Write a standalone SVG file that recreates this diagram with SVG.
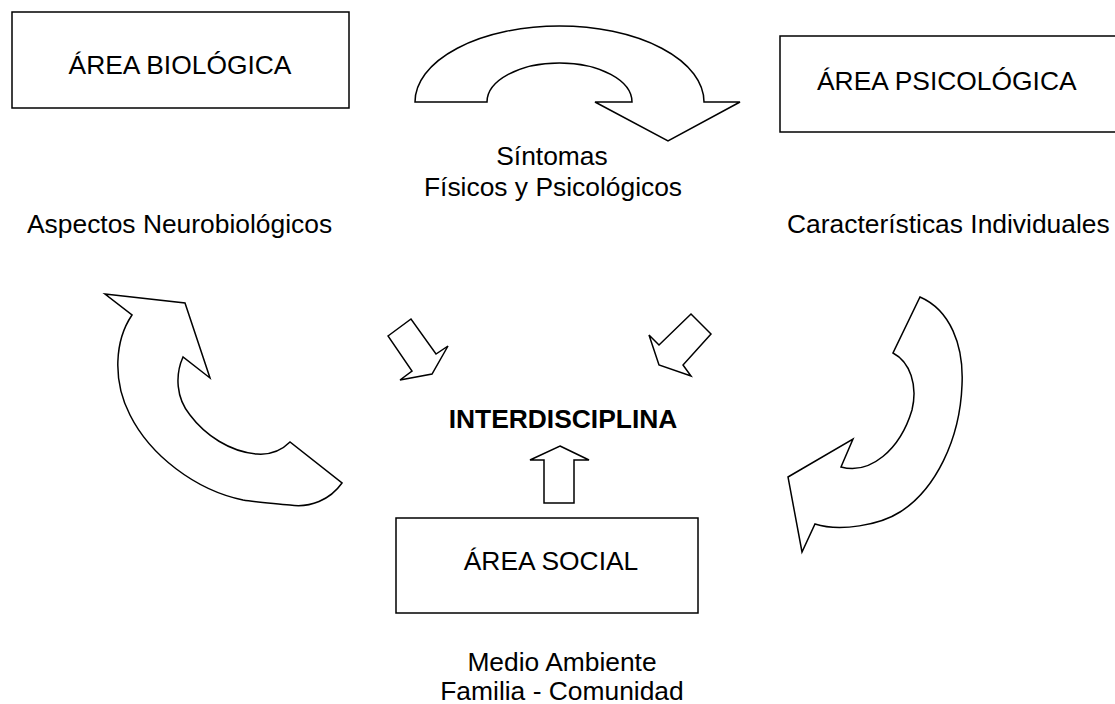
<svg xmlns="http://www.w3.org/2000/svg" width="1115" height="704" viewBox="0 0 1115 704">
<style>
.box{fill:#fff;stroke:#000;stroke-width:1.5}
.arr{fill:#fff;stroke:#000;stroke-width:1.5;stroke-linejoin:miter}
.t{font-family:"Liberation Sans",Arial,sans-serif;font-size:26.4px;fill:#000}
.b{font-weight:bold}
</style>
<rect width="1115" height="704" fill="#fff"/>
<g id="connectors">
<path id="arc-top" class="arr" d="M415,102 A144.5,76 0 0 1 704,102 L740,102 L668,141 L595,102 L632,102 A72.5,39 0 0 0 487,102 Z"/>
<path id="arc-left" class="arr" d="M105,294 L185,303 L210,378 L183,357 C175,375 176,398 190,415 C205,435 230,452 257,454 C270,455 282,450 290,442 L342,483 C330,500 310,508 290,505 C270,503 255,502 243,500 C195,490 150,455 130,415 C112,380 115,340 132,315 Z"/>
<path id="arc-right" class="arr" d="M920,297 C950,310 964,345 962,385 C960,440 935,490 900,512 C880,525 840,532 815,524 L802,552 L788,477 L853,439 L841,467 C870,475 900,450 912,410 C918,385 910,362 893,353 Z"/>
<polygon id="arrow-bio" class="arr" points="388,336 411,319 436,354 448,346 432,374 400,380 412,371"/>
<polygon id="arrow-psi" class="arr" points="691,314 711,334 683,365 691,376 659,365 649,335 659,345"/>
<polygon id="arrow-soc" class="arr" points="560,446 589,460 574,460 574,503 544,503 544,460 530,460"/>
</g>
<g id="node-bio">
<rect class="box" x="12" y="12" width="337" height="96"/>
<text class="t" x="180" y="74" text-anchor="middle">ÁREA BIOLÓGICA</text>
</g>
<g id="node-psi">
<rect class="box" x="780" y="36" width="345" height="96"/>
<text class="t" x="817" y="90">ÁREA PSICOLÓGICA</text>
</g>
<g id="node-soc">
<rect class="box" x="396" y="518" width="302" height="95"/>
<text class="t" x="551" y="570" text-anchor="middle">ÁREA SOCIAL</text>
</g>
<g id="node-inter">
<text class="t b" x="563" y="428" text-anchor="middle">INTERDISCIPLINA</text>
</g>
<g id="labels">
<text class="t" x="552" y="165" text-anchor="middle">Síntomas</text>
<text class="t" x="553" y="196" text-anchor="middle">Físicos y Psicológicos</text>
<text class="t" x="27" y="233">Aspectos Neurobiológicos</text>
<text class="t" x="787" y="233">Características Individuales</text>
<text class="t" x="562" y="671" text-anchor="middle">Medio Ambiente</text>
<text class="t" x="562" y="700" text-anchor="middle">Familia - Comunidad</text>
</g>
</svg>
